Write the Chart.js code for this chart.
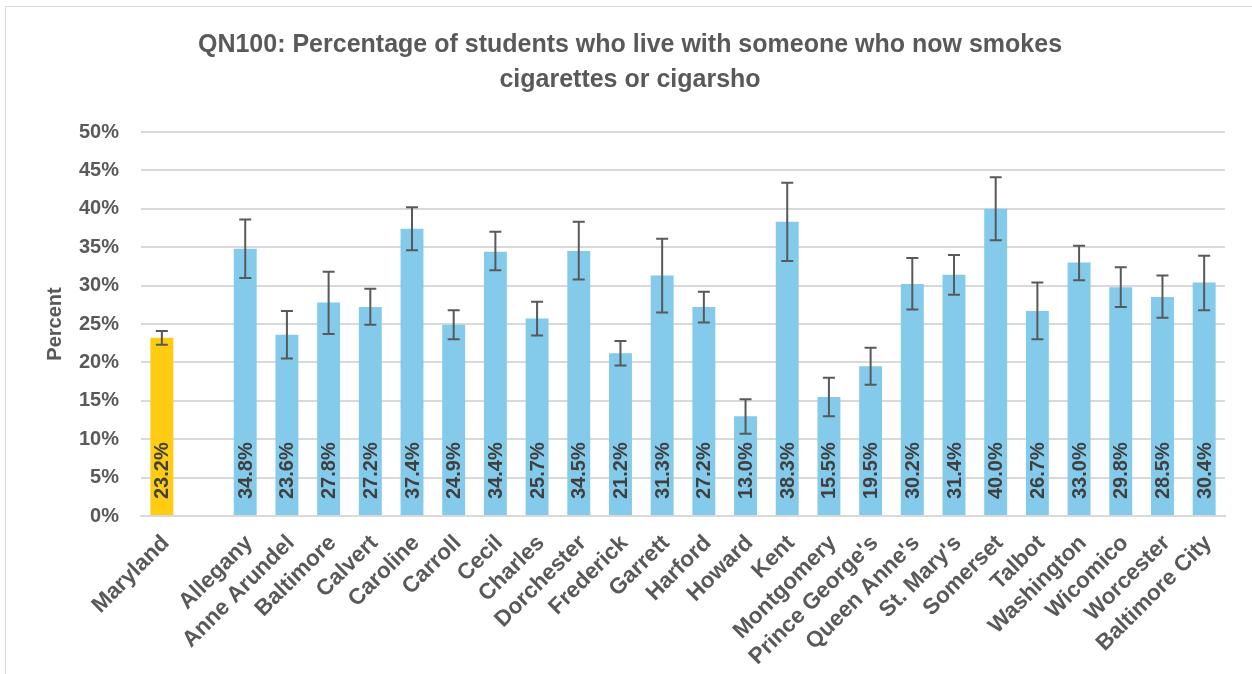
<!DOCTYPE html>
<html>
<head>
<meta charset="utf-8">
<script src="https://cdn.jsdelivr.net/npm/chart.js@4/dist/chart.umd.min.js"></script>
<style>
  html, body { margin: 0; padding: 0; background: #fff; overflow: hidden; }
  #wrap { position: relative; width: 1252px; height: 674px; }
  #frame { position: absolute; left: 5px; top: 6px; width: 1400px; height: 800px; border: 1.5px solid #d9d9d9; }
  canvas { position: absolute; left: 0; top: 0; }
</style>
</head>
<body>
<div id="wrap">
  <div id="frame"></div>
  <canvas id="chart" width="1252" height="674"></canvas>
</div>
<script>
// categories (blank slot after Maryland, as in the original sheet)
const counties = ['Maryland', '', 'Allegany', 'Anne Arundel', 'Baltimore', 'Calvert', 'Caroline', 'Carroll',
  'Cecil', 'Charles', 'Dorchester', 'Frederick', 'Garrett', 'Harford', 'Howard', 'Kent', 'Montgomery',
  "Prince George's", "Queen Anne's", "St. Mary's", 'Somerset', 'Talbot', 'Washington', 'Wicomico',
  'Worcester', 'Baltimore City'];

const pct = [23.2, null, 34.8, 23.6, 27.8, 27.2, 37.4, 24.9, 34.4, 25.7, 34.5, 21.2, 31.3, 27.2, 13.0,
  38.3, 15.5, 19.5, 30.2, 31.4, 40.0, 26.7, 33.0, 29.8, 28.5, 30.4];

// 95% CI
const ciLow = [22.3, null, 31.0, 20.5, 23.7, 24.9, 34.6, 23.0, 32.0, 23.5, 30.8, 19.6, 26.5, 25.2, 10.7,
  33.2, 13.0, 17.1, 26.9, 28.8, 35.9, 23.0, 30.7, 27.2, 25.8, 26.8];
const ciHigh = [24.1, null, 38.6, 26.7, 31.8, 29.6, 40.2, 26.8, 37.0, 27.9, 38.3, 22.8, 36.1, 29.2, 15.2,
  43.4, 18.0, 21.9, 33.6, 34.0, 44.1, 30.4, 35.2, 32.4, 31.3, 33.9];

const yTicks = [0, 5, 10, 15, 20, 25, 30, 35, 40, 45, 50];

const barColors = counties.map(c => c === 'Maryland' ? '#FFCC12' : '#83CAEB');
const txt = '#595959';
const fam = "'Liberation Sans', Arial, sans-serif";

const errorBars = {
  id: 'errorBars',
  afterDatasetsDraw(chart) {
    const ctx = chart.ctx;
    const y = chart.scales.y;
    const meta = chart.getDatasetMeta(0);
    ctx.save();
    ctx.strokeStyle = '#595959';
    ctx.lineWidth = 2;
    meta.data.forEach((bar, i) => {
      if (ciLow[i] == null) return;
      const x = bar.x;
      const top = y.getPixelForValue(ciHigh[i]);
      const bot = y.getPixelForValue(ciLow[i]);
      ctx.beginPath();
      ctx.moveTo(x, top); ctx.lineTo(x, bot);
      ctx.moveTo(x - 6, top); ctx.lineTo(x + 6, top);
      ctx.moveTo(x - 6, bot); ctx.lineTo(x + 6, bot);
      ctx.stroke();
    });
    ctx.restore();
  }
};

const barLabels = {
  id: 'barLabels',
  afterDatasetsDraw(chart) {
    const ctx = chart.ctx;
    const base = chart.scales.y.getPixelForValue(0);
    const meta = chart.getDatasetMeta(0);
    ctx.save();
    ctx.fillStyle = '#404040';
    ctx.font = 'bold 20px ' + fam;
    ctx.textAlign = 'left';
    ctx.textBaseline = 'middle';
    meta.data.forEach((bar, i) => {
      if (pct[i] == null) return;
      ctx.save();
      ctx.translate(bar.x, base - 17);
      ctx.rotate(-Math.PI / 2);
      ctx.fillText(pct[i].toFixed(1) + '%', 0, 1);
      ctx.restore();
    });
    ctx.restore();
  }
};

new Chart(document.getElementById('chart'), {
  type: 'bar',
  data: {
    labels: counties,
    datasets: [{
      data: pct,
      backgroundColor: barColors,
      categoryPercentage: 1.0,
      barPercentage: 0.55
    }]
  },
  options: {
    responsive: false,
    animation: false,
    layout: { padding: { left: 8, right: 0, top: 0, bottom: 0 } },
    plugins: {
      legend: { display: false },
      tooltip: { enabled: false },
      title: {
        display: true,
        text: ['QN100: Percentage of students who live with someone who now smokes', 'cigarettes or cigarsho'],
        color: txt,
        font: { family: fam, size: 25, weight: 'bold', lineHeight: 1.4 },
        padding: { top: 28, bottom: 34 }
      }
    },
    scales: {
      x: {
        grid: { display: false },
        border: { color: '#d9d9d9', width: 2 },
        ticks: {
          color: txt,
          font: { family: fam, size: 22.5, weight: 'bold' },
          minRotation: 45,
          maxRotation: 45,
          autoSkip: false,
          labelOffset: 4,
          padding: 6
        },
        afterFit(scale) { scale.height = 158; }
      },
      y: {
        min: 0,
        max: 50,
        afterBuildTicks(scale) { scale.ticks = yTicks.map(v => ({ value: v })); },
        grid: { color: '#d9d9d9', lineWidth: 2, drawTicks: false },
        border: { display: false },
        ticks: {
          color: txt,
          font: { family: fam, size: 20, weight: 'bold' },
          padding: 22,
          callback: v => v + '%'
        },
        title: {
          display: true,
          text: 'Percent',
          color: txt,
          font: { family: fam, size: 20, weight: 'bold' },
          padding: { top: 35, bottom: 0 }
        },
        afterFit(scale) { scale.width = 133; }
      },
      // empty strip on the right so the plot ends where the original does
      yRight: {
        position: 'right',
        min: 0,
        max: 50,
        grid: { display: false },
        border: { display: false },
        ticks: { display: false },
        afterFit(scale) { scale.width = 27; }
      }
    }
  },
  plugins: [errorBars, barLabels]
});
</script>
</body>
</html>
